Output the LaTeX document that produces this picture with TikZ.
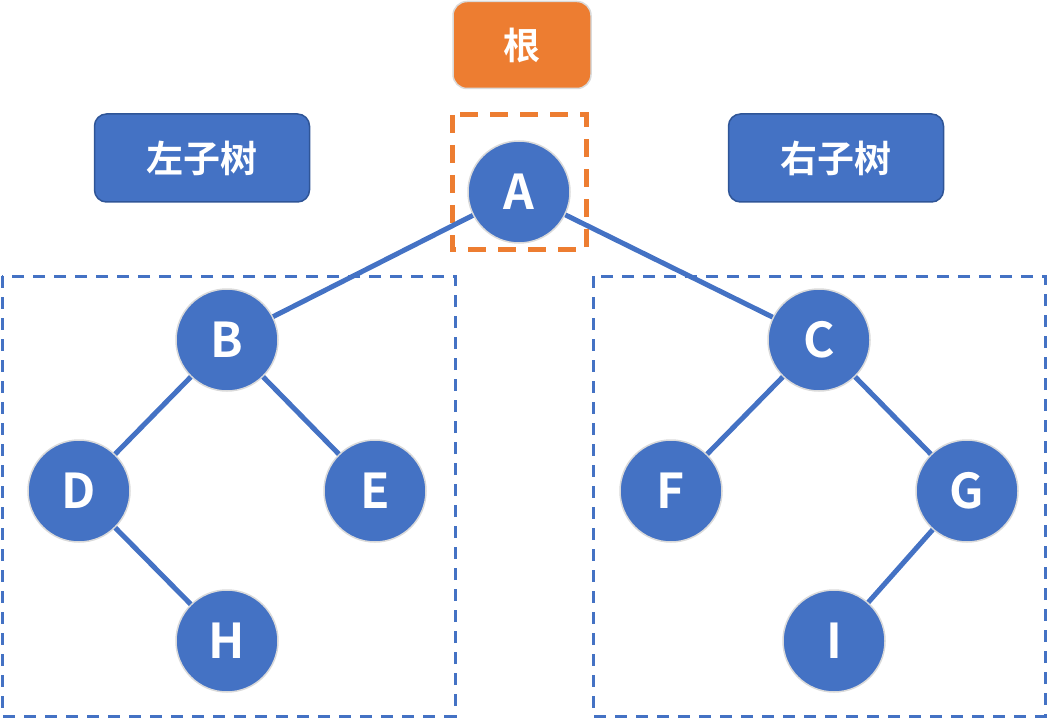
\documentclass[tikz,border=0pt]{standalone}
\usepackage{fontspec}
\setmainfont{Noto Sans CJK SC}
\newfontfamily\cjkb{Noto Sans CJK SC Bold}
\definecolor{nodeblue}{HTML}{4472C4}
\definecolor{edgeblue}{HTML}{2F5597}
\definecolor{rootorange}{HTML}{ED7D31}
\definecolor{ringgray}{HTML}{DADADA}
\begin{document}
\begin{tikzpicture}[x=1pt,y=-1pt,
  treenode/.style={circle,fill=nodeblue,draw=ringgray,line width=1.5pt,minimum size=102pt,inner sep=0pt,text=white,font=\fontsize{48}{48}\cjkb},
  labelbox/.style={rounded corners=12pt,fill=nodeblue,draw=edgeblue,line width=1.5pt,minimum width=215pt,minimum height=88pt,text=white,font=\fontsize{37}{37}\cjkb},
  rootbox/.style={rounded corners=14pt,fill=rootorange,draw=ringgray,line width=1.5pt,minimum width=138pt,minimum height=87pt,text=white,font=\fontsize{37}{37}\cjkb},
  treeedge/.style={draw=nodeblue,line width=5pt},
  regionbox/.style={draw=nodeblue,line width=3pt,dash pattern=on 12pt off 9pt},
  rootregion/.style={draw=rootorange,line width=5pt,dash pattern=on 18pt off 12pt}
]
\useasboundingbox (0,0) rectangle (1048,719);
\draw[regionbox] (2,276) rectangle (455,716);
\draw[regionbox] (593,276) rectangle (1045,716);
\draw[rootregion] (452,115) rectangle (586,249);
\node[rootbox] (root) at (522,45) {根};
\node[labelbox] (lt) at (202,158) {左子树};
\node[labelbox] (rt) at (836,158) {右子树};
\node[treenode] (A) at (519,192) {A};
\node[treenode] (B) at (227,340) {B};
\node[treenode] (C) at (819,340) {C};
\node[treenode] (D) at (79,491) {D};
\node[treenode] (E) at (375,491) {E};
\node[treenode] (F) at (671,491) {F};
\node[treenode] (G) at (967,491) {G};
\node[treenode] (H) at (227,641) {H};
\node[treenode] (I) at (834,641) {I};
\path[treeedge] (A) -- (B);
\path[treeedge] (A) -- (C);
\path[treeedge] (B) -- (D);
\path[treeedge] (B) -- (E);
\path[treeedge] (D) -- (H);
\path[treeedge] (C) -- (F);
\path[treeedge] (C) -- (G);
\path[treeedge] (G) -- (I);
\end{tikzpicture}
\end{document}
